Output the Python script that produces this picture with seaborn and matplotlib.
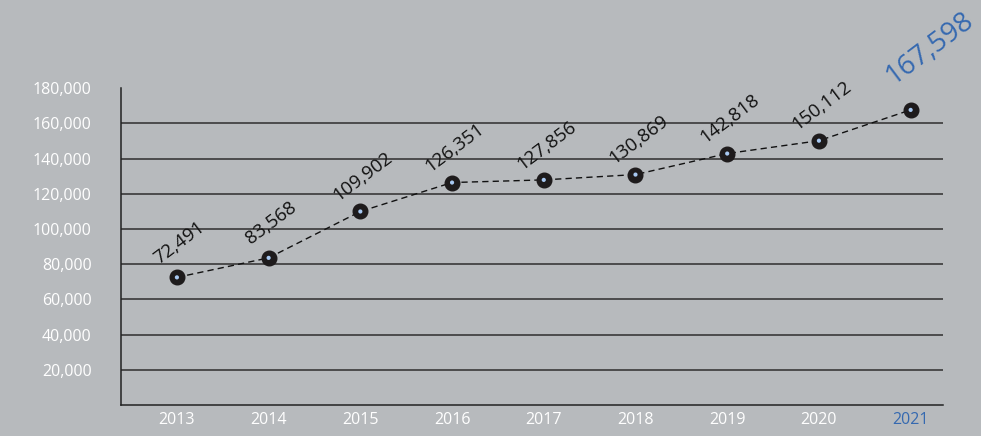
import pandas as pd
import matplotlib.pyplot as plt
import seaborn as sns

# data
years = ["2013", "2014", "2015", "2016", "2017", "2018", "2019", "2020", "2021"]
values = [72491, 83568, 109902, 126351, 127856, 130869, 142818, 150112, 167598]
y_ticks = [20000, 40000, 60000, 80000, 100000, 120000, 140000, 160000, 180000]

bg = "#b7babd"
blue = "#3569b0"

sns.set_theme(style="white")
plt.rcParams["font.family"] = ["Open Sans", "DejaVu Sans"]

df = pd.DataFrame({"pos": range(len(years)), "year": years, "value": values})

fig, ax = plt.subplots(figsize=(9.81, 4.36), dpi=100)
fig.patch.set_facecolor(bg)
ax.set_facecolor(bg)
fig.subplots_adjust(left=0.1233, right=0.961, bottom=0.0711, top=0.798)

# horizontal grid lines (no line at the top value)
for t in y_ticks[:-1]:
    ax.axhline(t, color="#2e2e2e", linewidth=1.1, zorder=1)

sns.lineplot(data=df, x="pos", y="value", ax=ax, color="#111111",
             linewidth=1, linestyle=(0, (4.5, 3)), zorder=2)
ax.plot(df["pos"], df["value"], linestyle="none", marker="o", markersize=10.5,
        markerfacecolor="#1e1b1c", markeredgecolor="#1e1b1c", zorder=3)
sns.scatterplot(data=df, x="pos", y="value", ax=ax, color="#a8c9f2", s=9,
                edgecolor="none", zorder=4)

# value labels
for i, v in enumerate(values):
    last = i == len(values) - 1
    ax.annotate(f"{v:,}", (i, v),
                xytext=(14, 44) if last else (2, 25), textcoords="offset points",
                ha="center", va="center", rotation=37,
                fontsize=20 if last else 13.5,
                color=blue if last else "#111111", zorder=5)

ax.set_xlim(-0.61, 8.35)
ax.set_ylim(0, 180000)
ax.set_xticks(df["pos"])
ax.set_xticklabels(years)
ax.set_yticks(y_ticks)
ax.set_yticklabels([f"{t:,}" for t in y_ticks])
ax.tick_params(axis="y", length=0, pad=21, labelsize=11.5, labelcolor="white")
ax.tick_params(axis="x", length=0, pad=5, labelsize=11.5, labelcolor="white")
ax.get_xticklabels()[-1].set_color(blue)
ax.set_xlabel("")
ax.set_ylabel("")

for side in ["top", "right"]:
    ax.spines[side].set_visible(False)
for side in ["left", "bottom"]:
    ax.spines[side].set_color("#222222")
    ax.spines[side].set_linewidth(1.1)

fig.savefig("out.png", dpi=100, facecolor=bg)
